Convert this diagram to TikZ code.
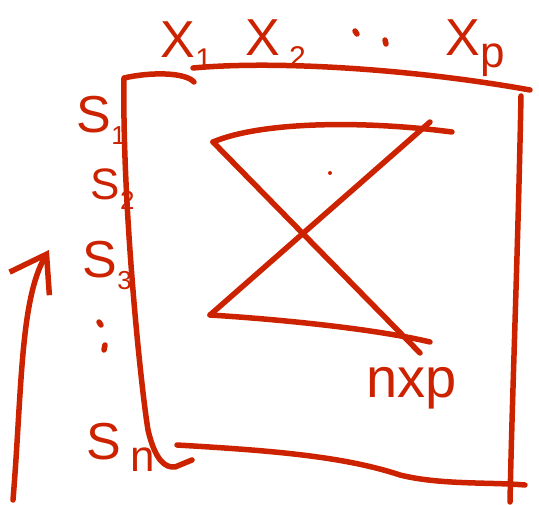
\documentclass[tikz,border=0pt]{standalone}
\usepackage{fontspec}
\setmainfont{Liberation Sans}
\usetikzlibrary{arrows.meta}
\definecolor{pen}{HTML}{CC2200}
\newcommand{\idx}[2][30]{\raisebox{-0.22em}{\fontsize{#1}{#1}\selectfont #2}}

\begin{document}
\begin{tikzpicture}[x=1pt,y=-1pt,line width=5.5pt,line cap=round,line join=round,
    ink/.style={draw=pen},
    lbl/.style={text=pen,inner sep=0pt,anchor=base west,font=\fontsize{52}{54}\selectfont}]
  \useasboundingbox (0,0) rectangle (539,505);
  % column labels
  \node[lbl] (x1) at (158,58) {X\idx{1}};
  \node[lbl] (x2) at (243,56) {X\,\idx{2}};
  \node[lbl] (xp) at (443,56) {X\idx[44]{p}};
  \draw[ink] (355,31) -- (357,34);
  \draw[ink] (385,40) -- (386,44);
  % row labels
  \node[lbl] (s1) at (74,133) {S\idx[26]{1}};
  \node[lbl,font=\fontsize{44}{46}\selectfont] (s2) at (88,200) {S\idx[26]{2}};
  \node[lbl] (s3) at (80,278) {S\idx[26]{3}};
  \node[lbl] (sn) at (84,460) {S\,\idx[44]{n}};
  \draw[ink] (99,322) -- (101,325);
  \draw[ink] (105,345) -- (104,350);
  \node[text=pen,inner sep=0pt,font=\fontsize{56}{60}\selectfont] (np) at (412,388) {nxp};
  % box
  \coordinate (tl) at (124,78);
  \coordinate (tm) at (194,82);
  \coordinate (tn) at (193,68);
  \coordinate (tr) at (530,90);
  \coordinate (rt) at (521,96);
  \coordinate (rb) at (510,502);
  \coordinate (lb) at (175,467);
  \coordinate (bl) at (177,445);
  \coordinate (br) at (525,485);
  \draw[ink] (tm) .. controls (185,72) and (150,72) .. (tl)
    .. controls (122,200) and (140,380) .. (148,430)
    .. controls (155,460) and (165,468) .. (lb) -- (192,460);
  \draw[ink] (tn) .. controls (280,60) and (420,70) .. (tr);
  \draw[ink] (rt) .. controls (518,250) and (512,400) .. (rb);
  \draw[ink] (bl) .. controls (260,450) and (340,455) .. (400,475)
    .. controls (440,485) and (490,482) .. (br);
  % hourglass
  \coordinate (ha) at (213,142);
  \coordinate (hb) at (452,132);
  \coordinate (hc) at (430,122);
  \coordinate (hd) at (210,315);
  \coordinate (he) at (430,342);
  \coordinate (hf) at (420,353);
  \draw[ink] (ha) .. controls (260,122) and (360,120) .. (hb);
  \draw[ink] (ha) -- (hf);
  \draw[ink] (hc) -- (hd);
  \draw[ink] (hd) .. controls (290,320) and (380,330) .. (he);
  \fill[pen] (330,173) circle (2pt);
  % direction arrow
  \coordinate (ab) at (13,500);
  \coordinate (at) at (49,250);
  \draw[ink,-{Straight Barb[length=34pt,width=46pt]}] (ab) .. controls (22,390) and (20,300) .. (at);
\end{tikzpicture}
\end{document}
